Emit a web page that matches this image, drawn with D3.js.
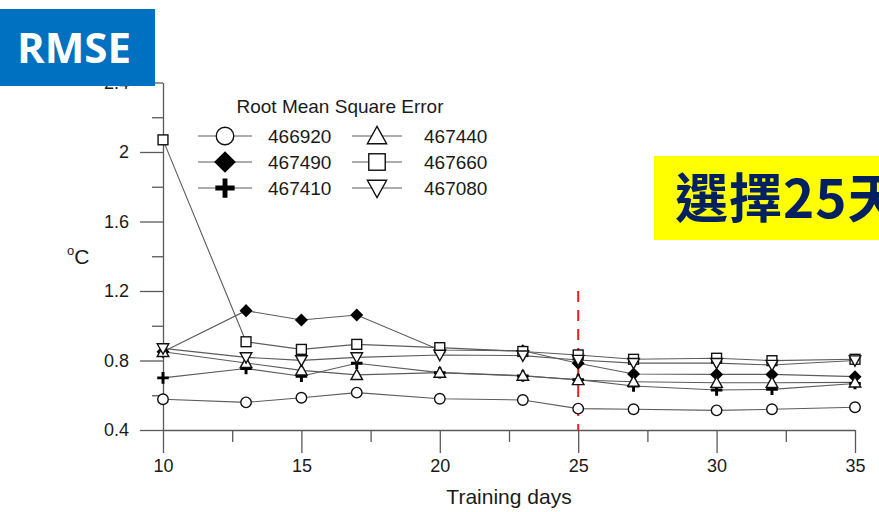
<!DOCTYPE html>
<html>
<head>
<meta charset="utf-8">
<script src="https://cdn.jsdelivr.net/npm/d3@7"></script>
<style>
  html, body { margin: 0; padding: 0; background: #fff; }
  svg { display: block; }
</style>
</head>
<body>
<svg id="chart" width="879" height="512"></svg>
<script>
// Training window length (days)
const days = [10, 13, 15, 17, 20, 23, 25, 27, 30, 32, 35];

// RMSE (°C) per station
const s466920 = [0.577, 0.559, 0.586, 0.615, 0.580, 0.573, 0.523, 0.519, 0.513, 0.519, 0.531];
const s467490 = [0.850, 1.087, 1.033, 1.062, 0.860, 0.856, 0.784, 0.722, 0.720, 0.720, 0.707];
const s467410 = [0.700, 0.754, 0.709, 0.784, 0.730, 0.711, 0.690, 0.653, 0.630, 0.634, 0.668];
const s467440 = [0.850, 0.786, 0.743, 0.717, 0.730, 0.713, 0.688, 0.678, 0.672, 0.672, 0.674];
const s467660 = [2.070, 0.908, 0.864, 0.893, 0.874, 0.852, 0.832, 0.807, 0.813, 0.799, 0.807];
const s467080 = [0.870, 0.818, 0.801, 0.818, 0.832, 0.828, 0.803, 0.785, 0.785, 0.774, 0.800];

const stations = ["466920", "467490", "467410", "467440", "467660", "467080"];
const seriesValues = [s466920, s467490, s467410, s467440, s467660, s467080];
const symbols = ["circle", "diamond", "plus", "triangle", "square", "triangleDown"];

const xTicks = [10, 15, 20, 25, 30, 35];
const xMinorTicks = [12.5, 17.5, 22.5, 27.5, 32.5];
const yTicks = [0.4, 0.8, 1.2, 1.6, 2.0, 2.4];
const yMinorTicks = [0.6, 1.0, 1.4, 1.8, 2.2];

const chosenDay = 25;
const chosenSpan = [0.4, 1.2];

const svg = d3.select("#chart");
const font = "'Liberation Sans', Arial, sans-serif";

const x = d3.scaleLinear().domain([10, 35]).range([163, 855]);
const y = d3.scaleLinear().domain([0.4, 2.4]).range([430, 82.5]);

const axisColor = "#5a5a5a";

// y axis: minor then major ticks
const gyMinor = svg.append("g").attr("transform", `translate(${x(10)},0)`)
  .call(d3.axisLeft(y).tickValues(yMinorTicks).tickSize(11).tickFormat(""));
const gy = svg.append("g").attr("transform", `translate(${x(10)},0)`)
  .call(d3.axisLeft(y).tickValues(yTicks).tickSize(23).tickSizeOuter(0).tickPadding(11)
    .tickFormat(d => d === 2 ? "2" : d3.format(".1f")(d)));

// x axis
const gxMinor = svg.append("g").attr("transform", `translate(0,${y(0.4)})`)
  .call(d3.axisBottom(x).tickValues(xMinorTicks).tickSize(12).tickFormat(""));
const gx = svg.append("g").attr("transform", `translate(0,${y(0.4)})`)
  .call(d3.axisBottom(x).tickValues(xTicks).tickSize(23).tickSizeOuter(0).tickPadding(6)
    .tickFormat(d3.format("d")));

[gyMinor, gy, gxMinor, gx].forEach(g => {
  g.selectAll(".domain").attr("stroke", axisColor).attr("stroke-width", 1.3);
  g.selectAll(".tick line").attr("stroke", axisColor).attr("stroke-width", 1.3);
  g.selectAll(".tick text").attr("fill", "#1a1a1a").style("font-family", font).style("font-size", "18px");
});
gxMinor.select(".domain").remove();
gyMinor.select(".domain").remove();

// axis titles
svg.append("text").attr("x", x(22.5)).attr("y", 504).attr("text-anchor", "middle")
  .style("font-family", font).style("font-size", "21px").attr("fill", "#1a1a1a")
  .text("Training days");
const yTitle = svg.append("text").attr("x", 67).attr("y", 264)
  .style("font-family", font).attr("fill", "#1a1a1a");
yTitle.append("tspan").style("font-size", "13px").attr("dy", "-9").text("o");
yTitle.append("tspan").style("font-size", "21px").attr("dy", "9").text("C");

// marker drawing
function drawMarker(g, type, cx, cy, s) {
  const sw = 1.4;
  if (type === "circle") {
    g.append("circle").attr("cx", cx).attr("cy", cy).attr("r", s * 0.5)
      .attr("fill", "#fff").attr("stroke", "#111").attr("stroke-width", sw);
  } else if (type === "square") {
    const h = s * 0.47;
    g.append("rect").attr("x", cx - h).attr("y", cy - h).attr("width", 2 * h).attr("height", 2 * h)
      .attr("fill", "#fff").attr("stroke", "#111").attr("stroke-width", sw);
  } else if (type === "diamond") {
    const h = s * 0.62;
    g.append("path").attr("d", `M${cx},${cy - h}L${cx + h},${cy}L${cx},${cy + h}L${cx - h},${cy}Z`)
      .attr("fill", "#000");
  } else if (type === "triangle" || type === "triangleDown") {
    const h = s * 0.55, dir = type === "triangle" ? 1 : -1;
    g.append("path")
      .attr("d", `M${cx},${cy - dir * h}L${cx + h},${cy + dir * h * 0.8}L${cx - h},${cy + dir * h * 0.8}Z`)
      .attr("fill", "#fff").attr("stroke", "#111").attr("stroke-width", sw);
  } else if (type === "plus") {
    const h = s * 0.55, w = s * 0.14;
    g.append("path")
      .attr("d", `M${cx - w},${cy - h}H${cx + w}V${cy - w}H${cx + h}V${cy + w}H${cx + w}V${cy + h}H${cx - w}V${cy + w}H${cx - h}V${cy - w}H${cx - w}Z`)
      .attr("fill", "#000");
  }
}

// series lines
const line = d3.line().x(d => x(d[0])).y(d => y(d[1]));
const gLines = svg.append("g");
seriesValues.forEach(vals => {
  gLines.append("path").datum(days.map((d, i) => [d, vals[i]]))
    .attr("d", line).attr("fill", "none").attr("stroke", "#5c5c5c").attr("stroke-width", 1.1);
});

// chosen window reference line
svg.append("line").attr("x1", x(chosenDay)).attr("x2", x(chosenDay))
  .attr("y1", y(chosenSpan[1])).attr("y2", y(chosenSpan[0]))
  .attr("stroke", "#ff1a1a").attr("stroke-width", 2).attr("stroke-dasharray", "11,8");

// series markers
const gMarks = svg.append("g");
seriesValues.forEach((vals, k) => {
  days.forEach((d, i) => drawMarker(gMarks, symbols[k], x(d), y(vals[i]), 10.5));
});

// legend
const gLeg = svg.append("g");
gLeg.append("text").attr("x", 340).attr("y", 113).attr("text-anchor", "middle")
  .style("font-family", font).style("font-size", "19px").attr("fill", "#1a1a1a")
  .text("Root Mean Square Error");
const legCols = [{ x0: 198, x1: 252, tx: 268 }, { x0: 352, x1: 402, tx: 424 }];
const legRows = [136, 162, 188];
const legOrder = [[0, 3], [1, 4], [2, 5]];
legOrder.forEach((pair, r) => {
  pair.forEach((k, c) => {
    const col = legCols[c], cy = legRows[r], cx = (col.x0 + col.x1) / 2;
    gLeg.append("line").attr("x1", col.x0).attr("x2", col.x1).attr("y1", cy).attr("y2", cy)
      .attr("stroke", "#5c5c5c").attr("stroke-width", 1.2);
    drawMarker(gLeg, symbols[k], cx, cy, 17.5);
    gLeg.append("text").attr("x", col.tx).attr("y", cy + 7)
      .style("font-family", font).style("font-size", "19px").attr("fill", "#1a1a1a")
      .text(stations[k]);
  });
});

// "RMSE" tag
svg.append("rect").attr("x", 0).attr("y", 9).attr("width", 155).attr("height", 77).attr("fill", "#0070c0");
svg.append("text").attr("x", 74).attr("y", 63).attr("text-anchor", "middle")
  .style("font-family", "'Open Sans', 'Noto Sans', sans-serif").style("font-weight", 700).style("font-size", "42px")
  .attr("fill", "#fff").text("RMSE");

// note box (the last glyph runs past the page edge)
svg.append("rect").attr("x", 654).attr("y", 156).attr("width", 240).attr("height", 84).attr("fill", "#ffff00");
svg.append("text").attr("x", 675).attr("y", 218)
  .style("font-family", "'Noto Sans CJK TC', 'Noto Sans CJK SC', sans-serif").style("font-weight", 700).style("font-size", "53px")
  .style("letter-spacing", "1px")
  .attr("fill", "#002060").text("選擇25天");
</script>
</body>
</html>
